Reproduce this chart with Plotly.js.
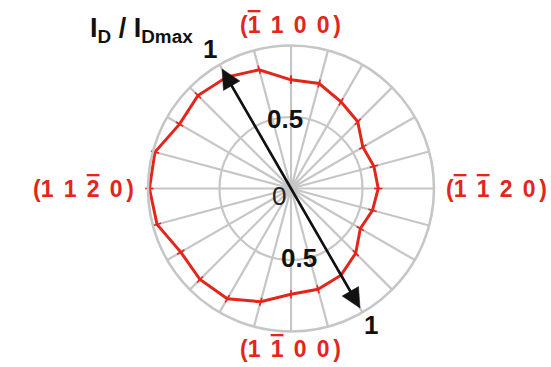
<!DOCTYPE html>
<html>
<head>
<meta charset="utf-8">
<script src="https://cdn.plot.ly/plotly-3.0.1.min.js"></script>
<style>
  html, body { margin: 0; padding: 0; background: #fff; }
  #plot { width: 551px; height: 367px; }
</style>
</head>
<body>
<div id="plot"></div>
<script>
// Normalised drain current I_D / I_Dmax versus in-plane direction (degrees, clockwise from top)
const angles = [0, 15, 30, 45, 60, 75, 90, 105, 120, 135, 150, 165,
                180, 195, 210, 225, 240, 255, 270, 285, 300, 315, 330, 345];
const ratio  = [0.76, 0.76, 0.70, 0.66, 0.58, 0.60, 0.61, 0.59, 0.56, 0.64, 0.70, 0.73,
                0.74, 0.82, 0.89, 0.90, 0.89, 0.97, 0.99, 0.985, 0.90, 0.92, 0.90, 0.86];

// Double-headed reference arrow along the 330° / 150° direction
const arrowAngles = [330, 150];
const arrowTipR = 0.965;

// Crystal direction labels (top, left, right, bottom): Miller–Bravais indices,
// with the negative (overbarred) index positions listed separately
const dirIndices = [['1', '1', '0', '0'], ['1', '1', '2', '0'], ['1', '1', '2', '0'], ['1', '1', '0', '0']];
const dirNegative = [[0], [2], [0, 1], [1]];

const RED = '#e2261c';
const GRID = '#c6c6c6';
const INK = '#111';
const FONT = 'Liberation Sans, Arial, sans-serif';

// closed curve
const thetaC = angles.concat([angles[0]]);
const rC = ratio.concat([ratio[0]]);

const curve = {
  type: 'scatterpolar', mode: 'lines+markers',
  r: rC, theta: thetaC,
  line: {color: RED, width: 3},
  marker: {symbol: 'line-ns', size: 6, angle: thetaC,
           line: {color: RED, width: 1.6}, color: RED},
  hoverinfo: 'skip', showlegend: false
};

// arrow shaft and heads, built from the arrow's polar description
const headLen = 0.135, headHalf = 0.066;
const shaftEnd = arrowTipR - headLen + 0.02;
const shaft = {
  type: 'scatterpolar', mode: 'lines',
  r: [shaftEnd, 0, shaftEnd], theta: [arrowAngles[0], arrowAngles[0], arrowAngles[1]],
  line: {color: INK, width: 2.6},
  hoverinfo: 'skip', showlegend: false
};
function toPolar(x, y) {
  return [Math.hypot(x, y), ((Math.atan2(x, y) * 180 / Math.PI) + 360) % 360];
}
const heads = arrowAngles.map(a => {
  const t = a * Math.PI / 180;
  const ux = Math.sin(t), uy = Math.cos(t);
  const px = -uy, py = ux;
  const tip = [arrowTipR * ux, arrowTipR * uy];
  const bR = arrowTipR - headLen;
  const b1 = [bR * ux + headHalf * px, bR * uy + headHalf * py];
  const b2 = [bR * ux - headHalf * px, bR * uy - headHalf * py];
  const pts = [tip, b1, b2, tip].map(p => toPolar(p[0], p[1]));
  return {
    type: 'scatterpolar', mode: 'lines', fill: 'toself',
    r: pts.map(p => p[0]), theta: pts.map(p => p[1]),
    fillcolor: INK, line: {color: INK, width: 0.5},
    hoverinfo: 'skip', showlegend: false
  };
});

const W = 551, H = 367;
function ann(text, px, py, size, color, weight, extra) {
  return Object.assign({
    text: text, xref: 'paper', yref: 'paper',
    x: px / W, y: 1 - py / H, xanchor: 'center', yanchor: 'middle',
    showarrow: false,
    font: {family: FONT, size: size, color: color, weight: weight}
  }, extra || {});
}

// direction label "(h k i l)", negative indices drawn with an overline
const SIXTH = '\u2006';
function directionLabel(idx, neg) {
  const parts = idx.map((d, i) =>
    neg.indexOf(i) >= 0 ? '<span style="text-decoration:overline">' + d + '</span>' : d);
  return '(' + parts.join(' ' + SIXTH) + SIXTH + ')';
}

const labelCentres = [[290.5, 25], [83, 188.5], [496.5, 189], [290, 349]];
const annotations = [
  ann('I<sub>D</sub> / I<sub>Dmax</sub>', 88, 30, 27, INK, 'bold', {xanchor: 'left'}),
  ann('1', 210, 49, 26, INK, 'bold'),
  ann('1', 371, 325, 26, INK, 'bold'),
  ann('0.5', 285, 119, 26, INK, 'bold'),
  ann('0.5', 299, 258, 26, INK, 'bold'),
  ann('0', 279, 196, 26, '#222', 'normal')
].concat(dirIndices.map((idx, k) =>
  ann(directionLabel(idx, dirNegative[k]), labelCentres[k][0], labelCentres[k][1], 23, RED, 'bold')));

const cx = 291, cy = 188.5, R = 143;
const layout = {
  width: W, height: H,
  margin: {l: 0, r: 0, t: 0, b: 0},
  paper_bgcolor: '#fff', plot_bgcolor: '#fff',
  showlegend: false,
  polar: {
    domain: {x: [(cx - R) / W, (cx + R) / W], y: [(H - cy - R) / H, (H - cy + R) / H]},
    bgcolor: 'rgba(0,0,0,0)',
    radialaxis: {range: [0, 1], tickvals: [0.5, 1], showticklabels: false, ticks: '',
                 showline: false, gridcolor: GRID, gridwidth: 2.2},
    angularaxis: {direction: 'clockwise', rotation: 90, tickmode: 'linear', tick0: 0, dtick: 15,
                  showticklabels: false, ticks: '', showline: true, linecolor: GRID, linewidth: 2.6,
                  gridcolor: GRID, gridwidth: 2.2}
  },
  annotations: annotations
};

Plotly.newPlot('plot', [curve, shaft].concat(heads), layout, {displayModeBar: false, staticPlot: true});
</script>
</body>
</html>
